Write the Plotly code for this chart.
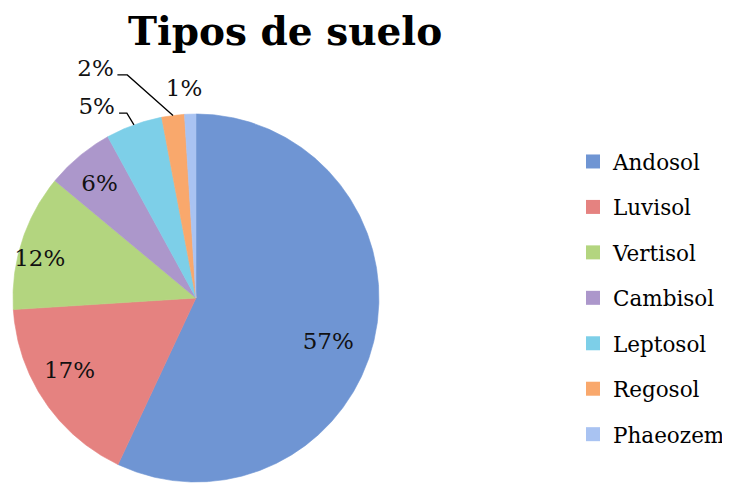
import numpy as np
import plotly.graph_objects as go

soil_types = ["Andosol", "Luvisol", "Vertisol", "Cambisol",
              "Leptosol", "Regosol", "Phaeozem"]
shares = [57, 17, 12, 6, 5, 2, 1]
colors = ["#6f95d3", "#e58280", "#b3d57f", "#ac97cb",
          "#7dcfe8", "#f9a86c", "#a9c3f2"]

# label placement: radius (pie radius = 1) and angle offset from slice middle
label_r = [0.763, 0.80, 0.878, 0.809, 1.167, 1.355, 1.132]
label_dtheta = [6.1, 4.0, -4.4, -1.0, -7.9, -16.7, -1.5]

FONT = "DejaVu Serif"
W, H = 722, 475       # page has an 8px body margin
R_PX = 184            # pie radius in pixels
CX, CY = 189, 290     # pie centre in figure pixels (from top-left)


def to_xy(r, deg):
    """clockwise-from-top angle -> x, y in pie units."""
    t = np.radians(deg)
    return r * np.sin(t), r * np.cos(t)


vals = np.array(shares, dtype=float)
total = vals.sum()
ends = np.cumsum(vals) / total * 360
starts = ends - vals / total * 360
mids = (starts + ends) / 2

fig = go.Figure()

for name, a0, a1, c in zip(soil_types, starts, ends, colors):
    th = np.linspace(a0, a1, max(8, int((a1 - a0) * 2)))
    x, y = to_xy(1.0, th)
    fig.add_trace(go.Scatter(
        x=np.r_[0, x, 0], y=np.r_[0, y, 0], mode="lines",
        fill="toself", fillcolor=c, line=dict(color=c, width=0.6),
        name=name, showlegend=False, hoverinfo="name",
    ))

# legend entries, one group each so the row spacing can be set
for name, c in zip(soil_types, colors):
    fig.add_trace(go.Scatter(
        x=[None], y=[None], mode="markers", name=name, legendgroup=name,
        marker=dict(symbol="square", size=14, color=c),
    ))

pct = [f"{v / total:.0%}" for v in vals]
lx, ly = to_xy(np.array(label_r), mids + np.array(label_dtheta))
fig.add_trace(go.Scatter(
    x=lx, y=ly, mode="text", text=pct, textposition="middle center",
    textfont=dict(family=FONT, size=23, color="#111"),
    showlegend=False, hoverinfo="skip", cliponaxis=False,
))

# leader lines for the Leptosol and Regosol labels
lep, reg = mids[4], mids[5]
for rr, tt in [([1.0, 1.073, 1.089], [lep, lep - 0.8, lep - 2.9]),
               ([1.0, 1.269, 1.286], [reg, reg - 10.0, reg - 12.3])]:
    x, y = to_xy(np.array(rr), np.array(tt))
    fig.add_trace(go.Scatter(
        x=x, y=y, mode="lines", line=dict(color="#000", width=1.3),
        showlegend=False, hoverinfo="skip", cliponaxis=False,
    ))

fig.update_layout(
    width=W, height=H,
    margin=dict(l=0, r=0, t=0, b=0),
    paper_bgcolor="white", plot_bgcolor="white",
    title=dict(text="<b>Tipos de suelo</b>", x=0.3837, xanchor="center",
               y=0.98, yanchor="top",
               font=dict(family=FONT, size=39, color="#000")),
    xaxis=dict(range=[-CX / R_PX, (W - CX) / R_PX], visible=False,
               fixedrange=True),
    yaxis=dict(range=[-(H - CY) / R_PX, CY / R_PX], visible=False,
               fixedrange=True),
    legend=dict(x=0.787, y=0.72, xanchor="left", yanchor="top",
                traceorder="grouped", tracegroupgap=14.5,
                font=dict(family=FONT, size=21.5, color="#000")),
)

fig.write_html("out.html")
